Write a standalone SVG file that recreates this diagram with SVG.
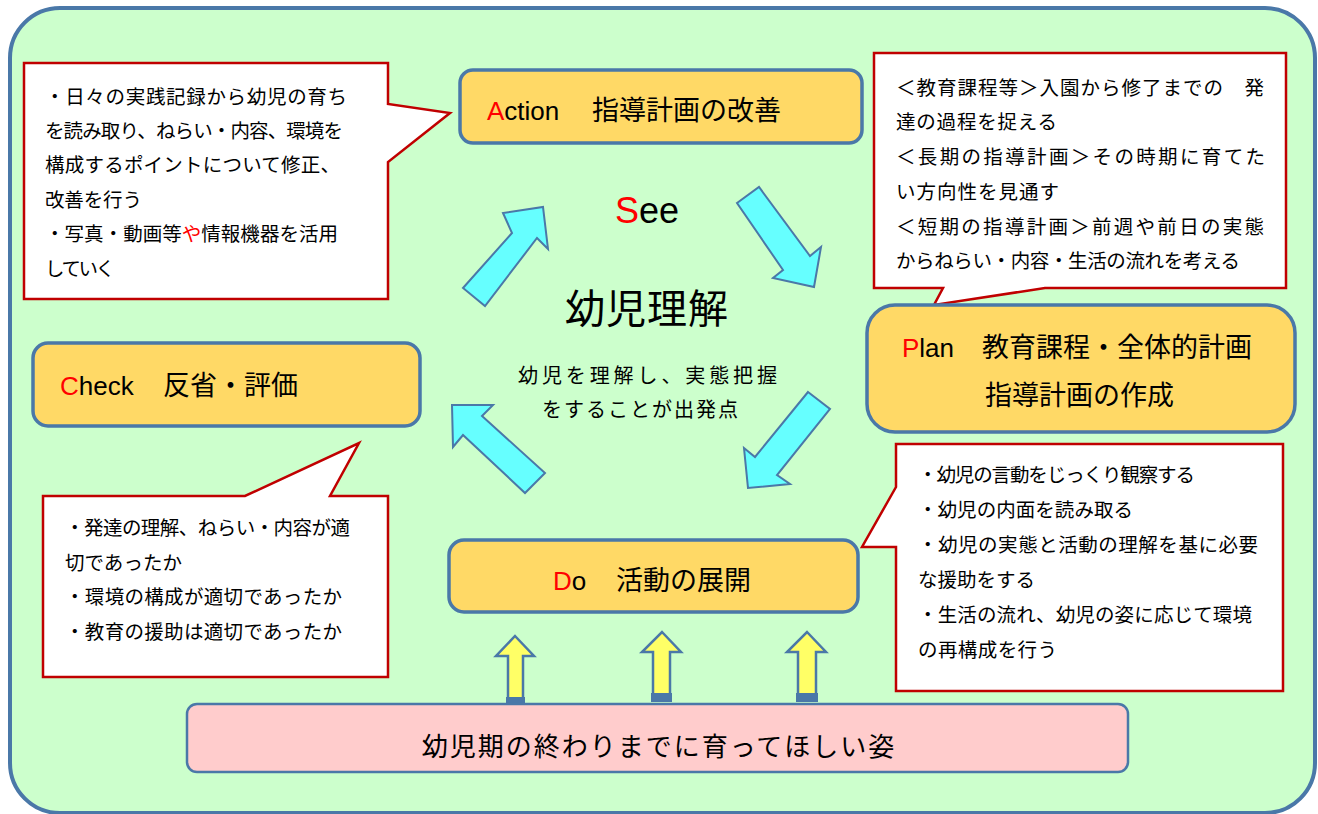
<svg xmlns="http://www.w3.org/2000/svg" width="1318" height="814" viewBox="0 0 1318 814">
<style>
.node{fill:#ffd966;stroke:#4a78a8;stroke-width:3.5}
.call{fill:#ffffff;stroke:#c00000;stroke-width:2.5}
.cyan{fill:#66ffff;stroke:#4a78a8;stroke-width:2;stroke-linejoin:miter}
.yel{fill:#ffff66;stroke:#4a78a8;stroke-width:2.5}
.band{fill:#4a78a8}
.lbl{font-family:"Liberation Sans","Noto Sans CJK JP",sans-serif;font-size:26px;fill:#000}
.jp{font-family:"Noto Sans CJK JP",sans-serif;fill:#000}
.ct{font-family:"Noto Sans CJK JP",sans-serif;font-size:19.5px;fill:#000}
.red{fill:#ff0000}
</style>
<rect id="background" x="10" y="8" width="1305" height="805" rx="50" ry="50" fill="#ccffcc" stroke="#4a78a8" stroke-width="4"/>

<g id="connectors">
  <polygon class="cyan" points="463,288 512,233 503,213 543,207 548,249 537,238 485,306"/>
  <polygon class="cyan" points="737,203 759,187 810,256 821,247 814,287 773,278 783,270"/>
  <polygon class="cyan" points="808,392 830,409 777,475 790,484 748,488 744,448 755,457"/>
  <polygon class="cyan" points="545,473 525,493 463,435 453,447 452,405 493,405 482,416"/>
  <polygon class="yel" points="515,636 534,656 523,656 523,700 508,700 508,656 496,656"/>
  <rect class="band" x="506" y="697" width="19" height="6"/>
  <polygon class="yel" points="662,632 681,652 670,652 670,700 653,700 653,652 642,652"/>
  <rect class="band" x="651" y="693" width="21" height="9"/>
  <polygon class="yel" points="807,632 826,652 816,652 816,700 798,700 798,652 787,652"/>
  <rect class="band" x="796" y="693" width="22" height="9"/>
</g>

<g id="center">
  <text x="647" y="223" text-anchor="middle" font-family="Liberation Sans, sans-serif" font-size="36" fill="#000"><tspan class="red">S</tspan>ee</text>
  <text class="jp" x="647" y="323" text-anchor="middle" font-size="40" letter-spacing="1">幼児理解</text>
  <text class="jp" x="518" y="383" font-size="20" textLength="259" lengthAdjust="spacing">幼児を理解し、実態把握</text>
  <text class="jp" x="542" y="417" font-size="20" textLength="196" lengthAdjust="spacing">をすることが出発点</text>
</g>

<g id="action">
  <rect class="node" x="460" y="70" width="402" height="73" rx="13"/>
  <text class="lbl" x="487" y="120"><tspan class="red">A</tspan>ction<tspan x="592" font-size="27">指導計画の改善</tspan></text>
</g>

<g id="action-note">
  <path class="call" d="M24,63 H388 V104 L450,113 L388,162 V299 H24 Z"/>
  <text class="ct" x="45" y="104" textLength="302" lengthAdjust="spacing">・日々の実践記録から幼児の育ち</text>
  <text class="ct" x="45" y="138" textLength="298" lengthAdjust="spacing">を読み取り、ねらい・内容、環境を</text>
  <text class="ct" x="45" y="172" textLength="295" lengthAdjust="spacing">構成するポイントについて修正、</text>
  <text class="ct" x="45" y="207" textLength="97" lengthAdjust="spacing">改善を行う</text>
  <text class="ct" x="45" y="241" textLength="293" lengthAdjust="spacing">・写真・動画等<tspan class="red">や</tspan>情報機器を活用</text>
  <text class="ct" x="45" y="276" textLength="70" lengthAdjust="spacing">していく</text>
</g>

<g id="plan-note">
  <path class="call" d="M874,53 H1286 V288 H1045 L934,305 L943,288 H874 Z"/>
  <text class="ct" font-size="20" x="896" y="95" textLength="368" lengthAdjust="spacing">＜教育課程等＞入園から修了までの　発</text>
  <text class="ct" font-size="20" x="896" y="129" textLength="161" lengthAdjust="spacing">達の過程を捉える</text>
  <text class="ct" font-size="20" x="896" y="164" textLength="369" lengthAdjust="spacing">＜長期の指導計画＞その時期に育てた</text>
  <text class="ct" font-size="20" x="896" y="199" textLength="163" lengthAdjust="spacing">い方向性を見通す</text>
  <text class="ct" font-size="20" x="896" y="234" textLength="368" lengthAdjust="spacing">＜短期の指導計画＞前週や前日の実態</text>
  <text class="ct" font-size="20" x="896" y="268" textLength="344" lengthAdjust="spacing">からねらい・内容・生活の流れを考える</text>
</g>

<g id="plan">
  <rect class="node" x="867" y="305" width="428" height="127" rx="28"/>
  <text class="lbl" x="902" y="357"><tspan class="red">P</tspan>lan<tspan x="982" font-size="27">教育課程・全体的計画</tspan></text>
  <text class="jp" x="985" y="405" font-size="27">指導計画の作成</text>
</g>

<g id="check">
  <rect class="node" x="33" y="343" width="387" height="83" rx="15"/>
  <text class="lbl" x="60" y="395"><tspan class="red">C</tspan>heck<tspan x="163" font-size="27">反省・評価</tspan></text>
</g>

<g id="check-note">
  <path class="call" d="M43,496 H245 L359,443 L330,496 H388 V677 H43 Z"/>
  <text class="ct" x="65" y="535" textLength="285" lengthAdjust="spacing">・発達の理解、ねらい・内容が適</text>
  <text class="ct" x="65" y="570" textLength="117" lengthAdjust="spacing">切であったか</text>
  <text class="ct" x="65" y="604" textLength="277" lengthAdjust="spacing">・環境の構成が適切であったか</text>
  <text class="ct" x="65" y="639" textLength="277" lengthAdjust="spacing">・教育の援助は適切であったか</text>
</g>

<g id="do">
  <rect class="node" x="449" y="540" width="409" height="72" rx="15"/>
  <text class="lbl" x="553" y="590"><tspan class="red">D</tspan>o<tspan x="616" font-size="27">活動の展開</tspan></text>
</g>

<g id="do-note">
  <path class="call" d="M896,444 H1283 V691 H896 V547 H862 L896,487 Z"/>
  <text class="ct" x="918" y="482" textLength="277" lengthAdjust="spacing">・幼児の言動をじっくり観察する</text>
  <text class="ct" x="918" y="517" textLength="215" lengthAdjust="spacing">・幼児の内面を読み取る</text>
  <text class="ct" x="918" y="552" textLength="340" lengthAdjust="spacing">・幼児の実態と活動の理解を基に必要</text>
  <text class="ct" x="918" y="587" textLength="117" lengthAdjust="spacing">な援助をする</text>
  <text class="ct" x="918" y="622" textLength="334" lengthAdjust="spacing">・生活の流れ、幼児の姿に応じて環境</text>
  <text class="ct" x="918" y="657" textLength="139" lengthAdjust="spacing">の再構成を行う</text>
</g>

<g id="goal">
  <rect x="187" y="704" width="941" height="68" rx="10" fill="#ffcccc" stroke="#4a78a8" stroke-width="2.5"/>
  <text class="jp" x="659" y="756" text-anchor="middle" font-size="26" letter-spacing="2">幼児期の終わりまでに育ってほしい姿</text>
</g>
</svg>
